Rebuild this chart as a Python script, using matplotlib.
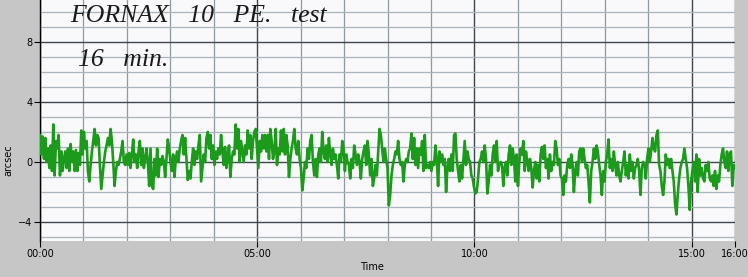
import numpy as np
import matplotlib
matplotlib.use("Agg")
import matplotlib.pyplot as plt
from matplotlib.ticker import FixedLocator, MultipleLocator

arcsec = [
    1.8, 0.5, 1.7, 0.2, 1.6, 0.0, 0.9, -0.4, 1.1, -0.6, 2.5, -0.9, 1.4, 0.9, 1.8, -0.9,
    0.7, -0.6, 0.2, 0.7, -0.4, 0.9, -0.6, 1.2, 0.0, 0.7, -0.6, 0.8, -0.6, 0.6, -0.2, 2.1,
    0.5, 2.0, 0.9, 1.4, -0.6, -1.3, -0.2, 0.7, 1.4, 2.2, 1.1, 1.8, 1.6, -0.2, -1.8, -0.9,
    0.0, 0.7, 1.1, 1.6, 1.1, 2.2, 1.4, 0.0, -1.6, -0.6, 0.0, -0.2, 0.2, 0.7, 1.4, 0.0,
    -0.2, 0.5, -0.2, 0.6, -0.4, 0.5, 1.5, 0.0, 0.5, -0.4, 0.7, 1.4, -0.2, 0.9, -0.4, 0.2,
    0.9, 0.0, -1.6, 0.9, -1.6, -1.8, 0.2, -0.9, 0.9, -1.0, 0.2, -0.2, 0.4, 0.0, -1.0, 0.2,
    1.5, 0.9, 0.0, -0.6, 0.5, -1.0, 0.2, 0.7, 0.0, 0.9, 1.4, 1.8, 0.5, 1.6, 0.2, -1.2,
    -0.6, -1.1, 0.0, 0.9, -0.2, 0.7, 0.2, 1.1, 1.8, -1.3, -0.4, 0.5, 0.0, 1.6, 2.0, 0.9,
    1.8, 0.2, 1.1, -0.2, 0.7, 0.2, 0.9, 0.5, 1.8, 0.7, -0.2, 1.0, -0.4, 0.5, 1.1, -1.0,
    0.2, 0.7, 0.5, 2.5, 0.9, 2.2, 0.0, 1.4, 0.7, 0.0, 1.1, 0.5, 2.1, 0.9, 1.8, 0.2,
    1.4, 2.0, 2.2, 0.9, -0.4, 1.4, 0.7, 1.8, 0.9, 1.8, 0.7,
    1.8, 0.2, 2.2, 1.4, 0.2, 0.7, 2.2, -0.2, 0.9, 0.5, 2.1, 0.7, 2.2, 0.5, 1.8, 1.1,
    -1.0, 0.2, 0.9, 1.4, 2.2, 0.9, 0.5, 1.4, 0.2, -0.4, -1.9, -1.1, 0.0, -0.4, 0.9, 0.2,
    1.4, 1.8, 0.0, -0.9, 0.2, -1.0, 0.5, 0.9, 0.0, 2.0, 0.7, 0.2, 1.1, 0.0, 1.6, 0.5,
    -0.2, 0.9, 0.2, 0.5, -0.2, -1.1, 0.5, 0.0, 1.4, 0.9, -0.6, 0.5, 0.0, -0.2, -1.1, 0.2,
    -0.4, 1.1, 0.5, -0.2, 0.5, 0.0, -1.1, 0.2, 0.7, 1.1, -0.2, 1.4, 0.5, -0.9, 0.2, -1.6,
    -1.1, -0.2, -0.9, 0.7, 2.2, 1.8, 0.9, 0.0,
    0.9, 0.2, -0.4, -2.9, -2.2, -0.9, -0.2, 0.2, 0.7, 0.5, 1.4, 0.2, -0.2, 0.0, -1.3, -0.2,
    0.2, 0.0, 0.7, 0.9, 1.9, 0.2, 1.6, -0.2, 0.9, -0.4, 0.9, 0.5, 1.4, -0.6, 1.8, -0.4,
    -0.2, -0.4, 0.0, -0.6, 0.0, -0.2, 1.1, 0.2, -1.6, 0.7, 0.0, 0.5, -0.2, 0.2, -2.0, -0.4,
    0.2, -0.6, 0.5, -0.6, 1.8, 1.9, 0.2, -0.6, -1.3, -0.2, -1.1, 0.2, 1.4, -0.2, 0.7, 0.2,
    0.0, -0.9, -1.1, -1.7, -2.1, -2.0, -1.1, 0.0, 0.2, 0.7, 0.0, 1.1, 0.2, -2.1, -1.3, -0.2,
    -0.9, 0.5, 1.1, 0.0, 1.4, -0.6, -0.2, 0.0,
    -0.2, -1.6, -0.4, 0.0, -0.9, 0.5, 1.1, -0.2, 0.9, 0.2, -1.3, 0.5, -1.6, 0.0, 0.9, 0.5,
    1.4, -0.6, 0.7, 0.0, -0.6, 0.2, -0.4, -1.7, -0.6, 0.0, -1.1, -0.2, -1.3, 0.5, 1.0, 0.2,
    1.1, -0.4, 0.2, -1.1, 0.5, -0.6, 0.0, -0.2, 1.4, 0.9, -0.2, 0.2, -0.9, -1.1, -2.2, -0.9,
    -1.3, -0.2, 0.2, -0.4, 0.5, -0.2, -2.0, -0.6, 0.0, -0.9, 0.7, 0.9, 0.0, 0.9, 0.2, -0.4,
    -0.2, -1.3, -2.7, -0.6, 0.0, 0.9, 0.2, 1.1, 0.7, -0.2, -0.9, -2.2, -0.6, -1.3, 0.0, 0.5,
    1.5, -0.4, 0.2, -0.6, 0.7, -0.2, -0.9, 0.0,
    -0.9, -1.3, -0.6, 0.0, 0.7, -0.9, -0.2, -1.1, 0.5, -0.6, 0.0, -1.1, -0.4, -0.2, 0.2, -0.6,
    -2.2, -0.4, 0.0, -0.2, -1.1, 0.2, 0.9, 0.0, 0.7, 1.6, 0.9, 0.7, 1.8, 2.1, -0.2, -0.6,
    -1.6, -2.2, -1.3, 0.5, -0.2, 0.2, -0.4, 0.2, -0.6, -1.3, -2.8, -3.5, -2.2, -1.1, -0.4, 0.0,
    0.2, 0.9, 0.2, -0.4, -1.6, -3.2, -1.3, -0.6, 0.0, -1.3, 0.5, -2.0, 0.2, -0.9, -0.4, -1.1,
    -1.3, -0.2, -0.6, 0.0, -1.1, -1.3, -0.9, -1.6, -0.6, -1.8, -0.9, -1.3, -0.2, 0.5, 0.9, 0.0,
    -0.4, 0.7, -0.6, 0.5, 0.7, -1.6, -0.2, -0.4,
]
minutes = np.linspace(0, 16, len(arcsec))

x_ticks = [0, 5, 10, 15, 16]
x_labels = ['00:00', '05:00', '10:00', '15:00', '16:00']
y_ticks = [-4, 0, 4, 8]

fig = plt.figure(figsize=(7.48, 2.77), dpi=100)
fig.patch.set_facecolor('#c6c6c6')
ax = fig.add_axes([40 / 748, 36 / 277, 695 / 748, 241 / 277])
ax.set_facecolor('#f9f8fa')

ax.plot(minutes, arcsec, color='#1b9a1b', lw=1.9, zorder=3)

ax.set_xlim(0, 16)
ax.set_ylim(-5.27, 10.8)

ax.xaxis.set_major_locator(FixedLocator(x_ticks))
ax.set_xticklabels(x_labels)
ax.xaxis.set_minor_locator(MultipleLocator(1))
ax.yaxis.set_major_locator(FixedLocator(y_ticks))
ax.yaxis.set_minor_locator(MultipleLocator(1))

ax.grid(which='minor', axis='y', color='#aab4bc', lw=0.9)
ax.grid(which='minor', axis='x', color='#8e9aa2', lw=0.9)
ax.grid(which='major', color='#3f4850', lw=1.0)

ax.tick_params(which='minor', length=0)
ax.tick_params(axis='y', which='major', length=4, width=0.8, pad=1.5, labelsize=7)
ax.tick_params(axis='x', which='major', length=4.5, width=0.8, pad=1.5, labelsize=7)

for side in ['top', 'right', 'bottom']:
    ax.spines[side].set_visible(False)
ax.spines['left'].set_color('black')
ax.spines['left'].set_linewidth(1.0)

fig.text(372 / 748, 1 - 267 / 277, 'Time', fontsize=7, ha='center', va='center')
fig.text(8 / 748, 1 - 160 / 277, 'arcsec', fontsize=7, rotation=90, ha='center', va='center')

ax.text(0.69, 9.33, 'FORNAX   10   PE.   test', family='Liberation Serif',
        style='italic', fontsize=18.5, color='#1a1a1a', va='baseline', ha='left', zorder=4)
ax.text(0.87, 6.4, '16   min.', family='Liberation Serif',
        style='italic', fontsize=18.5, color='#1a1a1a', va='baseline', ha='left', zorder=4)

fig.savefig('out.png', dpi=100, facecolor=fig.get_facecolor())
